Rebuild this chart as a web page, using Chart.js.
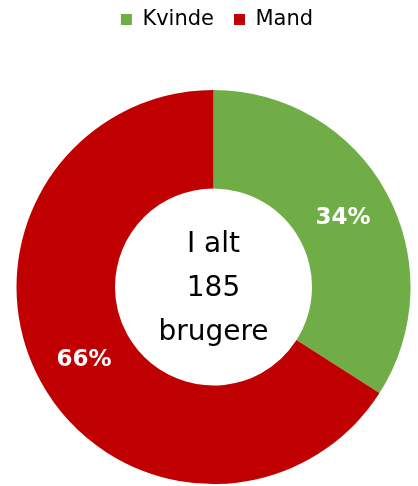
<!DOCTYPE html>
<html lang="da">
<head>
    <meta charset="UTF-8">
    <script src="https://cdn.jsdelivr.net/npm/chart.js"></script>
    <title>Brugere</title>
    <style>
        body {
            margin: 0;
            overflow: hidden;
            background: #ffffff;
            font-family: "DejaVu Sans", Verdana, sans-serif;
        }
        .wrap {
            position: relative;
            width: 418px;
            height: 486px;
        }
    </style>
</head>
<body>
<div class="wrap"><canvas id="myChart"></canvas></div>
<script>
    const labels = ['Kvinde', 'Mand'];
    const values = [63, 122];
    const colors = ['#70AD47', '#C00000'];
    const centerLines = ['I alt', '185', 'brugere'];

    // make room under the legend, and nudge it a bit right
    const legendSpace = {
        id: 'legendSpace',
        beforeInit(chart) {
            const legend = chart.legend;
            const fit = legend.fit;
            legend.fit = function () {
                fit.bind(legend)();
                this.height = 102;
            };
            const draw = legend.draw;
            legend.draw = function () {
                const ctx = chart.ctx;
                ctx.save();
                ctx.translate(3.5, 1);
                draw.call(legend);
                ctx.restore();
            };
        }
    };

    // percent labels and total in the middle
    const doughnutText = {
        id: 'doughnutText',
        afterDatasetsDraw(chart) {
            const ctx = chart.ctx;
            const meta = chart.getDatasetMeta(0);
            const total = values.reduce((a, b) => a + b, 0);
            ctx.save();
            ctx.fillStyle = '#ffffff';
            ctx.font = 'bold 23px "DejaVu Sans"';
            ctx.textAlign = 'center';
            ctx.textBaseline = 'middle';
            meta.data.forEach((arc, i) => {
                const p = arc.tooltipPosition();
                ctx.fillText(Math.round(values[i] / total * 100) + '%', p.x, p.y + 2);
            });
            const c = meta.data[0];
            ctx.fillStyle = '#000000';
            ctx.font = '28px "DejaVu Sans"';
            ctx.textBaseline = 'alphabetic';
            centerLines.forEach((t, i) => {
                ctx.fillText(t, c.x, c.y - 35 + i * 44);
            });
            ctx.restore();
        }
    };

    new Chart(document.getElementById('myChart'), {
        type: 'doughnut',
        data: {
            labels: labels,
            datasets: [{
                data: values,
                backgroundColor: colors,
                borderWidth: 0
            }]
        },
        options: {
            responsive: true,
            maintainAspectRatio: false,
            animation: false,
            cutout: '50%',
            layout: {
                padding: {left: 16.5, right: 7.5, top: -12, bottom: 2}
            },
            plugins: {
                legend: {
                    position: 'top',
                    labels: {
                        boxWidth: 11,
                        boxHeight: 11,
                        padding: 20,
                        color: '#000000',
                        font: {family: '"DejaVu Sans"', size: 21}
                    }
                },
                tooltip: {enabled: false}
            }
        },
        plugins: [legendSpace, doughnutText]
    });
</script>
</body>
</html>
